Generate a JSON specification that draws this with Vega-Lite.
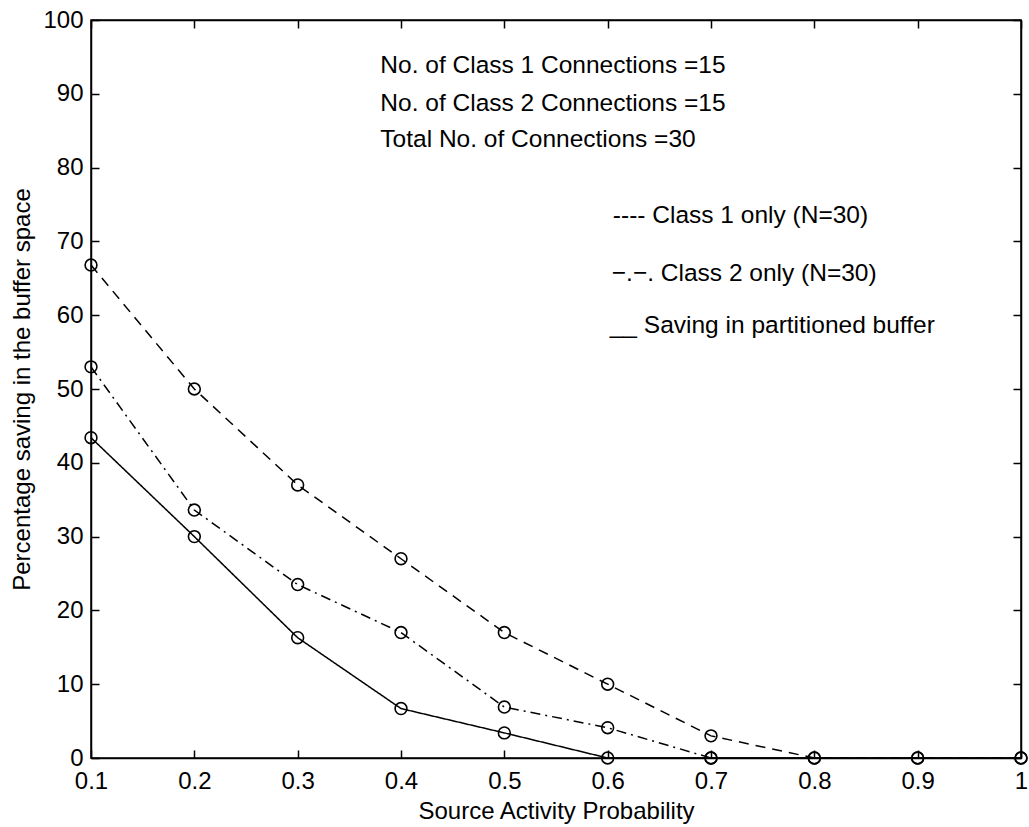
{
  "$schema": "https://vega.github.io/schema/vega-lite/v6.json",
  "width": 930,
  "height": 738,
  "autosize": {"type": "none"},
  "padding": {"left": 91, "top": 20, "right": 8, "bottom": 69},
  "background": "white",
  "config": {
    "view": {"stroke": "black", "strokeWidth": 1.5},
    "font": "Liberation Sans"
  },
  "datasets": {
    "series": [
      {"p": 0.1, "saving": 66.8, "series": "Class 1 only"},
      {"p": 0.2, "saving": 50, "series": "Class 1 only"},
      {"p": 0.3, "saving": 37, "series": "Class 1 only"},
      {"p": 0.4, "saving": 27, "series": "Class 1 only"},
      {"p": 0.5, "saving": 17, "series": "Class 1 only"},
      {"p": 0.6, "saving": 10, "series": "Class 1 only"},
      {"p": 0.7, "saving": 3, "series": "Class 1 only"},
      {"p": 0.8, "saving": 0, "series": "Class 1 only"},
      {"p": 0.9, "saving": 0, "series": "Class 1 only"},
      {"p": 1.0, "saving": 0, "series": "Class 1 only"},
      {"p": 0.1, "saving": 53, "series": "Class 2 only"},
      {"p": 0.2, "saving": 33.6, "series": "Class 2 only"},
      {"p": 0.3, "saving": 23.5, "series": "Class 2 only"},
      {"p": 0.4, "saving": 17, "series": "Class 2 only"},
      {"p": 0.5, "saving": 6.9, "series": "Class 2 only"},
      {"p": 0.6, "saving": 4.1, "series": "Class 2 only"},
      {"p": 0.7, "saving": 0, "series": "Class 2 only"},
      {"p": 0.1, "saving": 43.4, "series": "Partitioned"},
      {"p": 0.2, "saving": 30, "series": "Partitioned"},
      {"p": 0.3, "saving": 16.3, "series": "Partitioned"},
      {"p": 0.4, "saving": 6.7, "series": "Partitioned"},
      {"p": 0.5, "saving": 3.4, "series": "Partitioned"},
      {"p": 0.6, "saving": 0, "series": "Partitioned"},
      {"p": 0.7, "saving": 0, "series": "Partitioned"},
      {"p": 0.8, "saving": 0, "series": "Partitioned"},
      {"p": 0.9, "saving": 0, "series": "Partitioned"},
      {"p": 1.0, "saving": 0, "series": "Partitioned"}
    ],
    "notes": [
      {"p": 0.38, "saving": 93.8, "label": "No. of Class 1 Connections =15"},
      {"p": 0.38, "saving": 88.6, "label": "No. of Class 2 Connections =15"},
      {"p": 0.38, "saving": 83.7, "label": "Total No. of Connections =30"},
      {"p": 0.605, "saving": 73.5, "label": "---- Class 1 only (N=30)"},
      {"p": 0.604, "saving": 65.6, "label": "−.−. Class 2 only (N=30)"},
      {"p": 0.602, "saving": 58.6, "label": "__ Saving in partitioned buffer"}
    ]
  },
  "layer": [
    {
      "data": {"name": "series"},
      "mark": {"type": "line", "color": "black", "strokeWidth": 1.5},
      "encoding": {
        "x": {"field": "p", "type": "quantitative",
              "scale": {"domain": [0.1, 1], "nice": false, "zero": false},
              "axis": {"orient": "bottom", "values": [0.1,0.2,0.3,0.4,0.5,0.6,0.7,0.8,0.9,1], "format": "~g", "labelFlush": false, "labelOverlap": false,
                       "grid": false, "domainColor": "black", "domainWidth": 1.5, "tickColor": "black", "tickWidth": 1.5, "tickSize": -8,
                       "labelColor": "black", "labelFontSize": 24, "labelFont": "Liberation Sans", "labelPadding": 19,
                       "title": "Source Activity Probability", "titleFont": "Liberation Sans", "titleFontSize": 24, "titleFontWeight": "normal", "titleColor": "black", "titlePadding": 6}},
        "y": {"field": "saving", "type": "quantitative",
              "scale": {"domain": [0, 100], "nice": false},
              "axis": {"orient": "left", "values": [0,10,20,30,40,50,60,70,80,90,100], "labelFlush": false, "labelOverlap": false,
                       "grid": false, "domainColor": "black", "domainWidth": 1.5, "tickColor": "black", "tickWidth": 1.5, "tickSize": -8,
                       "labelColor": "black", "labelFontSize": 24, "labelFont": "Liberation Sans", "labelPadding": 16,
                       "title": "Percentage saving in the buffer space", "titleFont": "Liberation Sans", "titleFontSize": 24, "titleFontWeight": "normal", "titleColor": "black", "titlePadding": 8}},
        "strokeDash": {"field": "series", "type": "nominal",
                       "scale": {"domain": ["Class 1 only", "Class 2 only", "Partitioned"], "range": [[10, 7], [10, 5, 2, 5], [1, 0]]},
                       "legend": null},
        "detail": {"field": "series"}
      }
    },
    {
      "data": {"name": "series"},
      "mark": {"type": "point", "shape": "circle", "filled": false, "color": "black", "size": 140, "strokeWidth": 1.6, "opacity": 1},
      "encoding": {
        "x": {"field": "p", "type": "quantitative",
              "axis": {"orient": "top", "values": [0.1,0.2,0.3,0.4,0.5,0.6,0.7,0.8,0.9,1], "labels": false, "title": null,
                       "grid": false, "domainColor": "black", "domainWidth": 1.5, "tickColor": "black", "tickWidth": 1.5, "tickSize": -8}},
        "y": {"field": "saving", "type": "quantitative",
              "axis": {"orient": "right", "values": [0,10,20,30,40,50,60,70,80,90,100], "labels": false, "title": null,
                       "grid": false, "domainColor": "black", "domainWidth": 1.5, "tickColor": "black", "tickWidth": 1.5, "tickSize": -8}}
      }
    },
    {
      "data": {"name": "notes"},
      "mark": {"type": "text", "align": "left", "baseline": "middle", "fontSize": 24.5, "font": "Liberation Sans", "color": "black"},
      "encoding": {
        "x": {"field": "p", "type": "quantitative", "axis": null},
        "y": {"field": "saving", "type": "quantitative", "axis": null},
        "text": {"field": "label"}
      }
    }
  ],
  "resolve": {"axis": {"x": "independent", "y": "independent"}}
}
